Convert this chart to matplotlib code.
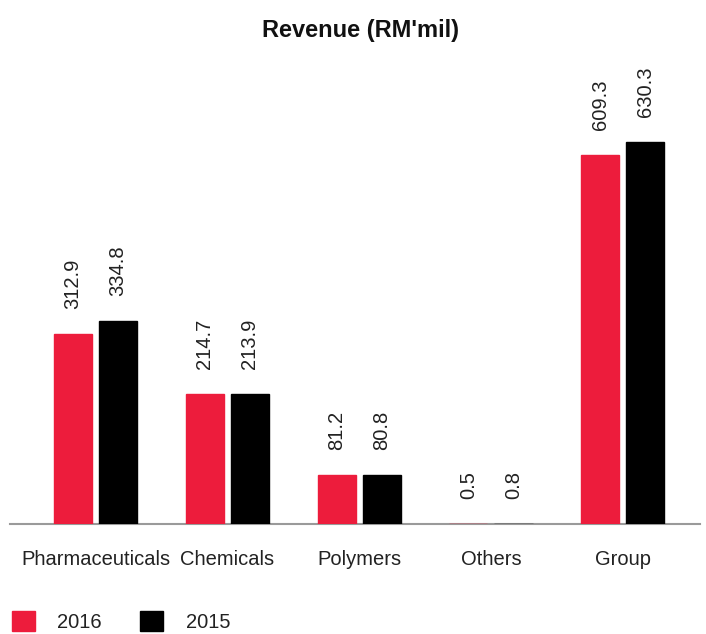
import matplotlib
matplotlib.use('Agg')
import matplotlib.pyplot as plt
import numpy as np

# dados
categorias = ['Pharmaceuticals', 'Chemicals', 'Polymers', 'Others', 'Group']
receita_2016 = [312.9, 214.7, 81.2, 0.5, 609.3]
receita_2015 = [334.8, 213.9, 80.8, 0.8, 630.3]
anos = ['2016', '2015']

cor_2016 = '#ED1C3C'
cor_2015 = '#000000'
cor_texto = '#222222'

plt.rcParams['font.family'] = ['Liberation Sans', 'DejaVu Sans']

W, H = 706, 634
fig = plt.figure(figsize=(W / 100, H / 100), dpi=100)

# eixo posicionado em pixels: linha base em y=524, de x=10 a x=700
ax = fig.add_axes([10 / W, 110 / H, 690 / W, 464 / H])

x = np.arange(len(categorias))
larg = 0.29
desloc = 0.171

# contorno da mesma cor deixa as barras minúsculas (Others) visíveis
b1 = ax.bar(x - desloc, receita_2016, width=larg, color=cor_2016,
            edgecolor=cor_2016, linewidth=1.0, label=anos[0], zorder=3)
b2 = ax.bar(x + desloc, receita_2015, width=larg, color=cor_2015,
            edgecolor=cor_2015, linewidth=1.0, label=anos[1], zorder=3)

for barras in (b1, b2):
    for b in barras:
        ax.annotate(f'{b.get_height():.1f}',
                    (b.get_x() + b.get_width() / 2, b.get_height()),
                    xytext=(0, 25), textcoords='offset pixels',
                    rotation=90, ha='center', va='bottom',
                    fontsize=14.5, color=cor_texto)

ax.set_xlim(-0.65, 4.587)
ax.set_ylim(0, 765.6)

ax.set_xticks(x)
ax.set_xticklabels(categorias, fontsize=14.5, color=cor_texto)
ax.tick_params(axis='x', length=0, pad=19)
ax.set_yticks([])

for s in ['top', 'left', 'right']:
    ax.spines[s].set_visible(False)
ax.spines['bottom'].set_color('#9a9a9a')
ax.spines['bottom'].set_linewidth(1.5)
ax.spines['bottom'].set_zorder(1)

fig.text(360 / W, 1 - 30 / H, "Revenue (RM'mil)", ha='center', va='center',
         fontsize=17, fontweight='bold', color='#111111')

leg = fig.legend(handles=[b1, b2], loc='lower left',
                 bbox_to_anchor=(12 / W, 2 / H), ncol=2, frameon=False,
                 fontsize=14.5, handlelength=1.15, handleheight=1.15,
                 handletextpad=1.1, columnspacing=1.9, borderpad=0,
                 borderaxespad=0)
for t in leg.get_texts():
    t.set_color(cor_texto)

fig.savefig('out.png', dpi=100)
